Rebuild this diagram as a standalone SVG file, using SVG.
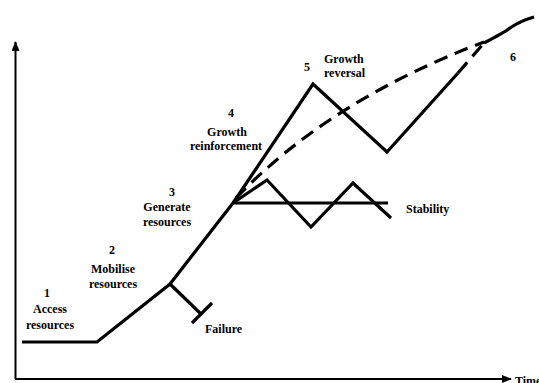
<svg xmlns="http://www.w3.org/2000/svg" width="539" height="383" viewBox="0 0 539 383">
<defs>
<style>
.ax{stroke:#000;stroke-width:2;fill:none}
.ln{stroke:#000;stroke-width:3.2;fill:none;stroke-linejoin:miter;stroke-linecap:butt}
.ds{stroke:#000;stroke-width:3.2;fill:none;stroke-dasharray:14 8}
text{font-family:'Liberation Serif','Times New Roman',serif;font-weight:bold;font-size:12px;fill:#000}
.c{text-anchor:middle}
</style>
<marker id="ah" markerWidth="10" markerHeight="8" refX="9" refY="4" orient="auto" markerUnits="userSpaceOnUse">
<path d="M0,0 L10,4 L0,8 Z" fill="#000"/>
</marker>
</defs>
<rect width="539" height="383" fill="#fff"/>
<g id="axes">
<line class="ax" x1="15.5" y1="379" x2="15.5" y2="42" marker-end="url(#ah)"/>
<line class="ax" x1="15" y1="379" x2="511" y2="379" marker-end="url(#ah)"/>
<text x="515" y="385">Time</text>
</g>
<g id="connectors">
<polyline class="ln" points="22,342 97,342 170,284 233,203 313,84 387,152 458,73"/>
<line class="ds" x1="458" y1="73" x2="484" y2="43"/>
<path class="ds" d="M236,198 Q330,100 484,42"/>
<path class="ln" d="M484,43 Q505,32 510,28 Q520,21 534,17"/>
<polyline class="ln" points="233,203 267,180 311,227 353,183 391,218"/>
<line class="ln" x1="233" y1="203" x2="388" y2="203"/>
<line class="ln" x1="170" y1="284" x2="201" y2="314"/>
<line class="ln" x1="192" y1="323" x2="212" y2="303"/>
</g>
<g id="n1"><text class="c" x="47" y="297">1</text><text class="c" x="50" y="313">Access</text><text class="c" x="50" y="329">resources</text></g>
<g id="n2"><text class="c" x="112" y="254">2</text><text class="c" x="113" y="273">Mobilise</text><text class="c" x="113" y="288">resources</text></g>
<g id="n3"><text class="c" x="172" y="196">3</text><text class="c" x="167" y="211">Generate</text><text class="c" x="167" y="226">resources</text></g>
<g id="n4"><text class="c" x="231" y="117">4</text><text class="c" x="227" y="136">Growth</text><text class="c" x="226" y="150">reinforcement</text></g>
<g id="n5"><text class="c" x="307" y="71">5</text><text x="324" y="63">Growth</text><text x="324" y="77">reversal</text></g>
<g id="n6"><text class="c" x="513" y="61">6</text></g>
<g id="stability"><text x="406" y="213">Stability</text></g>
<g id="failure"><text x="205" y="333">Failure</text></g>
</svg>
